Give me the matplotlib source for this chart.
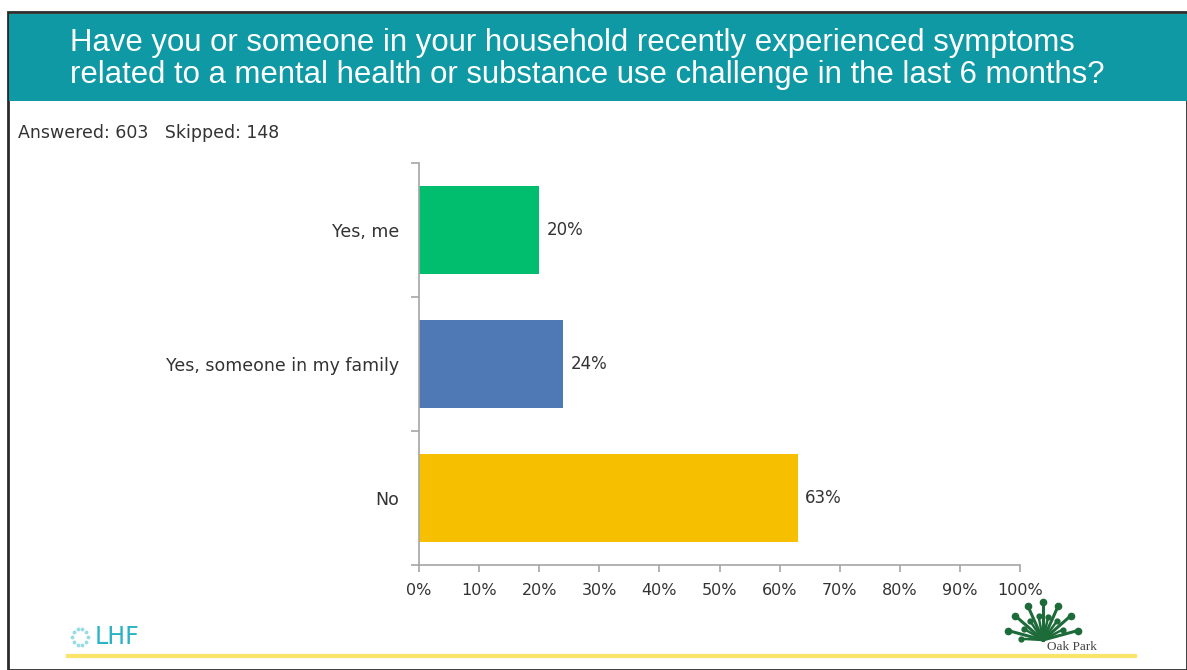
import numpy as np
import matplotlib.pyplot as plt
from matplotlib.patches import Rectangle

# Survey results
categories = ["Yes, me", "Yes, someone in my family", "No"]
percents = [20, 24, 63]
bar_colors = ["#00BE6E", "#4F79B5", "#F6BF00"]
xticks = list(range(0, 101, 10))

title = ("Have you or someone in your household recently experienced symptoms\n"
         "related to a mental health or substance use challenge in the last 6 months?")
stats_text = "Answered: 603   Skipped: 148"

plt.rcParams['font.family'] = ['DejaVu Sans']

fig = plt.figure(figsize=(11.87, 6.70), dpi=100)
W, H = 1187, 670

# slide frame and header banner
fig.patches.append(Rectangle((8 / W, 0), 1 - 8 / W, 1 - 12 / H, transform=fig.transFigure,
                             facecolor="white", edgecolor="#2b2b2b", linewidth=2.0, zorder=-2))
fig.patches.append(Rectangle((9 / W, 1 - 101 / H), 1, 87 / H, transform=fig.transFigure,
                             facecolor="#0E99A5", edgecolor="none", zorder=-1))
fig.text(70 / W, 1 - 59 / H, title, color="white", fontsize=22.4, family="Liberation Sans",
         va="center", ha="left", linespacing=1.12)
fig.text(18 / W, 1 - 133 / H, stats_text, color="#333333", fontsize=12.5, va="center")

ax = fig.add_axes([419 / W, 1 - 565 / H, (1020 - 419) / W, (565 - 163) / H])
ax.patch.set_alpha(0)
y = np.arange(len(categories))
ax.barh(y, percents, height=0.66, color=bar_colors)
for yi, p in zip(y, percents):
    ax.text(p + 1.2, yi, f"{p}%", va="center", ha="left", fontsize=12, color="#333333")

ax.set_xlim(0, 100)
ax.set_ylim(len(categories) - 0.5, -0.5)
ax.set_xticks(xticks)
ax.set_xticklabels([f"{t}%" for t in xticks])
ax.set_yticks(y)
ax.set_yticklabels(categories)
ax.set_yticks(np.arange(len(categories) + 1) - 0.5, minor=True)
ax.tick_params(axis="y", which="major", length=0, pad=14, labelsize=12.5, labelcolor="#333333")
ax.tick_params(axis="y", which="minor", length=6, color="#A6A6A6", width=1.2)
ax.tick_params(axis="x", length=5, color="#A6A6A6", width=1.2, pad=8,
               labelsize=11.5, labelcolor="#333333")
for side in ["top", "right"]:
    ax.spines[side].set_visible(False)
for side in ["left", "bottom"]:
    ax.spines[side].set_color("#A6A6A6")
    ax.spines[side].set_linewidth(1.2)

# footer: yellow rule and logos
fig.add_artist(plt.Line2D([68 / W, 1135 / W], [1 - 656 / H, 1 - 656 / H],
                          transform=fig.transFigure, color="#FBE46A", linewidth=3))
fig.text(95 / W, 1 - 637 / H, "LHF", color="#2AB3C4", fontsize=17, va="center",
         ha="left", family="Liberation Sans Narrow")
ang = np.linspace(0, 2 * np.pi, 10, endpoint=False)
fig.add_artist(plt.Line2D(80 / W + 8 / W * np.cos(ang), 1 - 637 / H + 8 / H * np.sin(ang),
                          transform=fig.transFigure, color="#9ADCE3", marker="o",
                          markersize=1.8, linestyle="none"))

# Oak Park tree mark
cx, cy = 1043, 640
for a in np.linspace(np.pi * 0.08, np.pi * 0.92, 7):
    fig.add_artist(plt.Line2D([cx / W, (cx + 36 * np.cos(a)) / W],
                              [1 - cy / H, 1 - (cy - 38 * np.sin(a)) / H],
                              transform=fig.transFigure, color="#1E6B3A", linewidth=2.2,
                              marker="o", markevery=[1], markersize=4.5))
    fig.add_artist(plt.Line2D([cx / W, (cx + 22 * np.cos(a + 0.2)) / W],
                              [1 - cy / H, 1 - (cy - 24 * np.sin(a + 0.2)) / H],
                              transform=fig.transFigure, color="#1E6B3A", linewidth=1.8,
                              marker="o", markevery=[1], markersize=3.5))
fig.text(1072 / W, 1 - 647 / H, "Oak Park", color="#444444", fontsize=9.5,
         family="Liberation Serif", ha="center", va="center")

fig.savefig("out.png", dpi=100)
